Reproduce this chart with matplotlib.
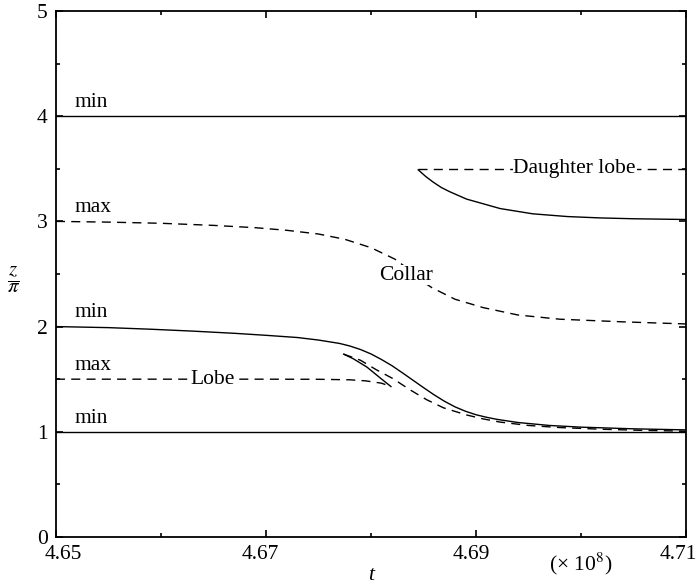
import matplotlib
matplotlib.use("Agg")
import matplotlib.pyplot as plt
import matplotlib.transforms as mtrans
from matplotlib.ticker import FixedLocator, FormatStrFormatter, MultipleLocator

plt.rcParams['font.family'] = ['Liberation Serif', 'DejaVu Serif']
plt.rcParams['mathtext.fontset'] = 'stix'

# region Data (t in units of 1e8, z/pi)
t_min_main = [4.650, 4.655, 4.659, 4.663, 4.667, 4.670, 4.673, 4.675, 4.677, 4.678,
              4.679, 4.680, 4.681, 4.682, 4.683, 4.684, 4.685, 4.686, 4.687, 4.688,
              4.689, 4.690, 4.691, 4.692, 4.694, 4.697, 4.700, 4.705, 4.710]
z_min_main = [2.000, 1.990, 1.975, 1.957, 1.936, 1.917, 1.896, 1.872, 1.840, 1.815,
              1.782, 1.740, 1.687, 1.628, 1.560, 1.490, 1.420, 1.352, 1.290, 1.237,
              1.195, 1.162, 1.138, 1.118, 1.088, 1.060, 1.044, 1.028, 1.018]

# lobe: max branch (dashed) -> tip -> solid branch -> cusp -> dashed branch
t_lobe_max = [4.650, 4.660, 4.670, 4.675, 4.678, 4.6795, 4.681, 4.6819]
z_lobe_max = [1.500, 1.500, 1.500, 1.499, 1.494, 1.484, 1.462, 1.430]
t_lobe_solid = [4.6819, 4.6809, 4.6796, 4.6783, 4.6774]
z_lobe_solid = [1.430, 1.510, 1.616, 1.695, 1.738]
t_lobe_back = [4.6774, 4.6790, 4.6805, 4.6821, 4.6837, 4.6853, 4.6869, 4.6891,
               4.6907, 4.6923, 4.695, 4.698, 4.702, 4.706, 4.710]
z_lobe_back = [1.738, 1.680, 1.590, 1.505, 1.400, 1.305, 1.228, 1.160,
               1.122, 1.092, 1.060, 1.040, 1.024, 1.013, 1.006]

t_collar = [4.650, 4.655, 4.660, 4.665, 4.669, 4.672, 4.675, 4.6775, 4.680, 4.6823,
            4.6835, 4.6845, 4.6858, 4.688, 4.6907, 4.694, 4.698, 4.704, 4.710]
z_collar = [3.000, 2.993, 2.982, 2.962, 2.940, 2.915, 2.880, 2.830, 2.750, 2.640,
            2.550, 2.455, 2.370, 2.260, 2.180, 2.110, 2.070, 2.045, 2.025]

t_daughter = [4.6845, 4.6852, 4.6859, 4.6867, 4.6875, 4.6891, 4.6923, 4.6954, 4.6987,
              4.7018, 4.705, 4.710]
z_daughter = [3.490, 3.428, 3.375, 3.322, 3.282, 3.212, 3.122, 3.072, 3.046,
              3.033, 3.025, 3.018]
t_daughter_max = [4.6845, 4.710]
z_daughter_max = [3.5, 3.5]

t_span = [4.65, 4.71]
z_min_top = [4.0, 4.0]
z_min_bottom = [1.0, 1.0]

t_major = [4.65, 4.67, 4.69, 4.71]
t_minor = [4.66, 4.68, 4.70]

extremum_labels = [('min', 4.0), ('max', 3.0), ('min', 2.0), ('max', 1.5), ('min', 1.0)]
region_labels = [('Daughter lobe', 4.6994, 3.5), ('Collar', 4.6833, 2.49), ('Lobe', 4.6649, 1.5)]
# endregion

fig = plt.figure(figsize=(6.97, 5.85), dpi=100)
ax = fig.add_axes([0.0803, 0.0821, 0.9039, 0.8991])

dash = dict(color='black', lw=1.0, linestyle=(0, (6.5, 4.5)))
solid = dict(color='black', lw=1.0)

ax.plot(t_span, z_min_top, **solid)
ax.plot(t_span, z_min_bottom, **solid)
ax.plot(t_min_main, z_min_main, **solid)
ax.plot(t_lobe_max, z_lobe_max, **dash)
ax.plot(t_lobe_solid, z_lobe_solid, **solid)
ax.plot(t_lobe_back, z_lobe_back, **dash)
ax.plot(t_collar, z_collar, **dash)
ax.plot(t_daughter, z_daughter, **solid)
ax.plot(t_daughter_max, z_daughter_max, **dash)

for txt, y in extremum_labels:
    ax.text(4.6518, y + 0.04, txt, fontsize=15.5, ha='left', va='bottom')

for txt, x, y in region_labels:
    ax.text(x, y, txt, fontsize=15.5, ha='center', va='center',
            bbox=dict(facecolor='white', edgecolor='none', pad=0.5))

ax.set_xlim(4.65, 4.71)
ax.set_ylim(0, 5)
ax.xaxis.set_major_locator(FixedLocator(t_major))
ax.xaxis.set_minor_locator(FixedLocator(t_minor))
ax.xaxis.set_major_formatter(FormatStrFormatter('%.2f'))
ax.yaxis.set_major_locator(MultipleLocator(1))
ax.yaxis.set_minor_locator(MultipleLocator(0.5))

ax.tick_params(which='both', direction='in', top=True, right=True, width=1.2)
ax.tick_params(which='major', length=5, labelsize=15.5)
ax.tick_params(which='minor', length=3)
ax.tick_params(axis='x', which='major', pad=6)
ax.tick_params(axis='y', which='major', pad=6)
for s in ax.spines.values():
    s.set_linewidth(1.3)

# nudge x tick labels the way the original is laid out
shifts = [7, -6, -5, -8]
for lab, dx in zip(ax.get_xticklabels(), shifts):
    lab.set_transform(lab.get_transform() +
                      mtrans.ScaledTranslation(dx / 100, 0, fig.dpi_scale_trans))

ax.text(4.70, -0.027, '(× 10$^{8}$)', fontsize=15.5, ha='center', va='top',
        transform=ax.get_xaxis_transform())
ax.text(4.68, -0.056, 't', fontsize=15.5, style='italic', ha='center', va='top',
        transform=ax.get_xaxis_transform())
fig.text(0.02, 0.521, r'$\dfrac{z}{\pi}$', fontsize=15, ha='center', va='center')

fig.savefig('out.png', dpi=100)
